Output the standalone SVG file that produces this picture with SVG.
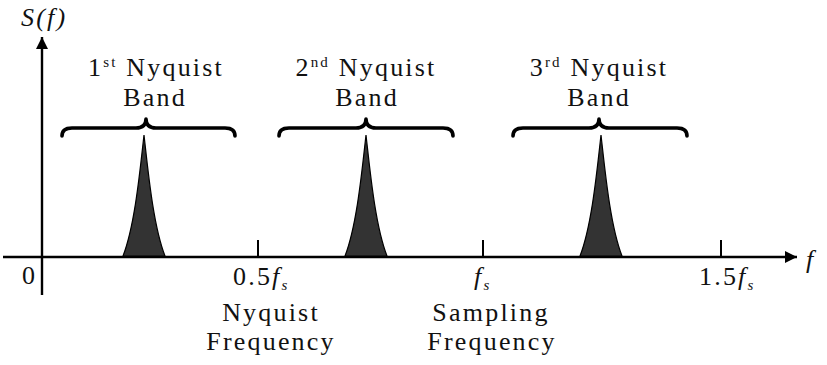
<svg xmlns="http://www.w3.org/2000/svg" width="827" height="365" viewBox="0 0 827 365">
<defs>
<style>
.t{font-family:"Liberation Serif","Times New Roman",serif;font-size:26px;fill:#111;letter-spacing:2.2px}
.i{font-style:italic}
.ax{stroke:#000;stroke-width:2.4;fill:none}
.tick{stroke:#000;stroke-width:2;fill:none}
.brace{stroke:#000;stroke-width:3.6;fill:none;stroke-linecap:round;stroke-linejoin:round}
.peak{fill:#333;stroke:#000;stroke-width:1.2}
</style>
<marker id="arr" viewBox="0 0 12 12" refX="12" refY="6" markerWidth="12" markerHeight="12" markerUnits="userSpaceOnUse" orient="auto">
<path d="M0,0 L12,6 L0,12 Z" fill="#000"/>
</marker>
</defs>
<rect width="827" height="365" fill="#fff"/>
<g id="axes">
<line class="ax" x1="42" y1="295" x2="42" y2="37" marker-end="url(#arr)"/>
<line class="ax" x1="3" y1="257" x2="797" y2="257" marker-end="url(#arr)"/>
<line class="tick" x1="258" y1="240" x2="258" y2="257"/>
<line class="tick" x1="483" y1="240" x2="483" y2="257"/>
<line class="tick" x1="721" y1="240" x2="721" y2="257"/>
</g>
<g id="axis-labels">
<text class="t i" x="21" y="26" letter-spacing="1.5">S(f)</text>
<text class="t i" x="806" y="268">f</text>
<text class="t" x="22" y="284" font-size="24">0</text>
<text class="t" x="233" y="285" font-size="25">0.5<tspan class="i">f</tspan><tspan class="i" font-size="15" dy="5">s</tspan></text>
<text class="t" x="474" y="285" font-size="25"><tspan class="i">f</tspan><tspan class="i" font-size="15" dy="5">s</tspan></text>
<text class="t" x="699" y="285" font-size="25">1.5<tspan class="i">f</tspan><tspan class="i" font-size="15" dy="5">s</tspan></text>
</g>
<g id="nyquist-frequency">
<text class="t" x="271" y="321" text-anchor="middle">Nyquist</text>
<text class="t" x="271" y="350" text-anchor="middle">Frequency</text>
</g>
<g id="sampling-frequency">
<text class="t" x="491" y="321" text-anchor="middle">Sampling</text>
<text class="t" x="492" y="350" text-anchor="middle">Frequency</text>
</g>
<g id="band1">
<text class="t" x="156" y="76" text-anchor="middle">1<tspan font-size="15" dy="-9">st</tspan><tspan dy="9"> Nyquist</tspan></text>
<text class="t" x="155" y="106" text-anchor="middle">Band</text>
<path class="brace" d="M62,136 Q62,128 72,128 L136,128 Q146,128 146,119 Q146,128 156,128 L225,128 Q235,128 235,136"/>
<path class="peak" d="M144,135 C148,170 153,225 165,256 L123,256 C135,225 140,170 144,135 Z"/>
</g>
<g id="band2">
<text class="t" x="366" y="76" text-anchor="middle">2<tspan font-size="15" dy="-9">nd</tspan><tspan dy="9"> Nyquist</tspan></text>
<text class="t" x="367" y="106" text-anchor="middle">Band</text>
<path class="brace" d="M279,136 Q279,128 289,128 L356,128 Q366,128 366,119 Q366,128 376,128 L443,128 Q453,128 453,136"/>
<path class="peak" d="M366,135 C370,170 375,225 387,256 L345,256 C357,225 362,170 366,135 Z"/>
</g>
<g id="band3">
<text class="t" x="599" y="76" text-anchor="middle">3<tspan font-size="15" dy="-9">rd</tspan><tspan dy="9"> Nyquist</tspan></text>
<text class="t" x="599" y="106" text-anchor="middle">Band</text>
<path class="brace" d="M513,136 Q513,128 523,128 L589,128 Q599,128 599,119 Q599,128 609,128 L677,128 Q687,128 687,136"/>
<path class="peak" d="M601,135 C605,170 610,225 622,256 L580,256 C592,225 597,170 601,135 Z"/>
</g>
</svg>
